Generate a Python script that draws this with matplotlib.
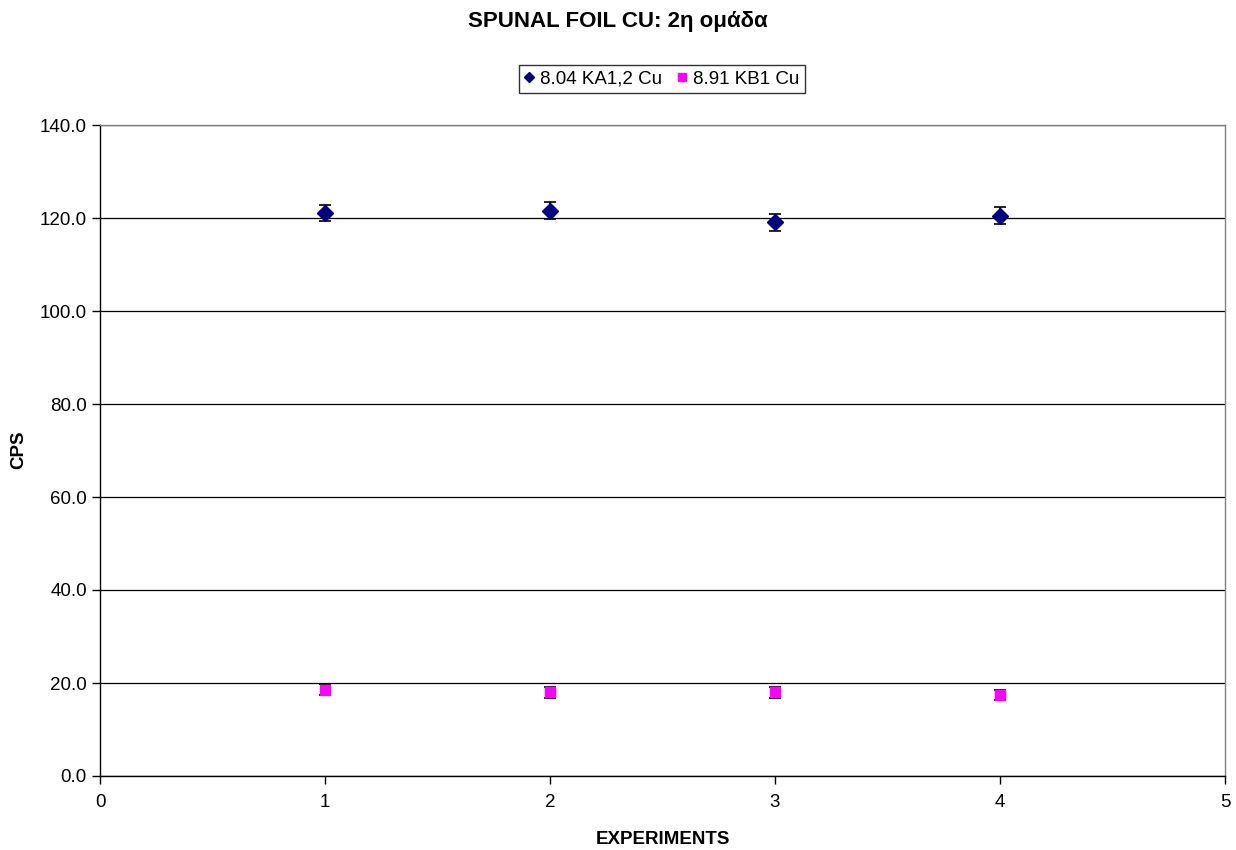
import matplotlib
matplotlib.use("Agg")
import matplotlib.pyplot as plt

plt.rcParams['font.family'] = ['Liberation Sans', 'DejaVu Sans']

experiments = [1, 2, 3, 4]
ka_values = [121.1, 121.6, 119.1, 120.5]
ka_errors = [1.8, 1.8, 1.8, 1.8]
kb_values = [18.6, 18.0, 18.0, 17.5]
kb_errors = [1.2, 1.15, 1.15, 1.1]
ka_label = "8.04 KA1,2 Cu"
kb_label = "8.91 KB1 Cu"
y_ticks = [0, 20, 40, 60, 80, 100, 120, 140]
x_ticks = [0, 1, 2, 3, 4, 5]

fig = plt.figure(figsize=(12.36, 8.5), dpi=100)
ax = fig.add_axes([100 / 1236, 1 - 776 / 850, 1125 / 1236, 651 / 850])

ax.errorbar(experiments, ka_values, yerr=ka_errors, fmt='D', color='#000080',
            markersize=8, ecolor='black', elinewidth=1.2, capsize=4, capthick=1.2,
            label=ka_label, zorder=3)
ax.errorbar(experiments, kb_values, yerr=kb_errors, fmt='s', color='#FF00FF',
            markersize=7.5, ecolor='black', elinewidth=1.2, capsize=4, capthick=1.2,
            label=kb_label, zorder=3)

ax.set_xlim(0, 5)
ax.set_ylim(0, 140)
ax.set_xticks(x_ticks)
ax.set_yticks(y_ticks)
ax.set_yticklabels([f"{v:.1f}" for v in y_ticks])
ax.yaxis.grid(True, color='black', linewidth=0.9)
ax.set_axisbelow(True)
ax.tick_params(axis='both', direction='out', length=6, labelsize=13.5, width=1)
ax.tick_params(axis='x', pad=7)
for side in ['left', 'bottom']:
    ax.spines[side].set_linewidth(1.0)
for side in ['top', 'right']:
    ax.spines[side].set_color('#808080')
    ax.spines[side].set_linewidth(1.0)

ax.set_xlabel("EXPERIMENTS", fontsize=13.5, fontweight='bold', labelpad=14)
fig.text(19 / 1236, 1 - 450 / 850, "CPS", rotation=90, ha='center', va='center',
         fontsize=13.5, fontweight='bold')
fig.text(0.5, 1 - 22 / 850, "SPUNAL FOIL CU: 2η ομάδα", ha='center', va='center',
         fontsize=16, fontweight='bold')

handles, labels = ax.get_legend_handles_labels()
handles = [h[0] for h in handles]
leg = fig.legend(handles, labels, loc='center', bbox_to_anchor=(662 / 1236, 1 - 79 / 850),
                 ncol=2, fontsize=13.5, frameon=True, fancybox=False, edgecolor='black',
                 handlelength=0.5, handletextpad=0.35, columnspacing=0.8,
                 borderpad=0.3, markerscale=0.7)
leg.get_frame().set_linewidth(1.0)

fig.savefig("out.png", dpi=100)
